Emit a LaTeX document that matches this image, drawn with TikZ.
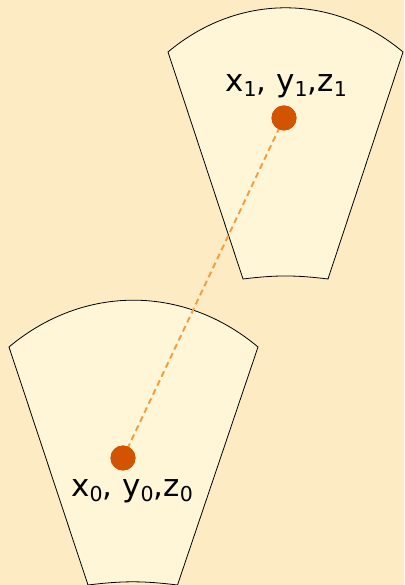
\documentclass[tikz,border=0pt]{standalone}
\usepackage{fontspec}
\setmainfont{DejaVu Sans}
\definecolor{bgc}{HTML}{FDEBC4}
\definecolor{fillc}{HTML}{FFF6D8}
\definecolor{dotc}{HTML}{D35400}
\definecolor{dashc}{HTML}{F0A040}
\newcommand{\sbs}[1]{\raisebox{-5pt}{\fontsize{20.5}{20.5}\selectfont #1}}
\tikzset{
  sector/.style={draw=black, line width=0.8pt, fill=fillc, line join=miter},
  dot/.style={circle, fill=dotc, inner sep=0pt, minimum size=25pt},
  lbl/.style={anchor=base, inner sep=0pt, font=\fontsize{31}{36}\selectfont},
  link/.style={draw=dashc, line width=2pt, dash pattern=on 6pt off 4pt}
}
\begin{document}
\begin{tikzpicture}[x=1pt,y=1pt]
\fill[bgc] (0,0) rectangle (404,585);
\useasboundingbox (0,0) rectangle (404,585);
\begin{scope}
\clip (0,0) rectangle (404,585);
% upper sector
\path[sector] (168,533) to[bend left=40] (403,533) -- (328,306) to[bend right=7] (243,306) -- cycle;
% lower sector
\path[sector] (9,238) to[bend left=40] (258,238) -- (177.5,0) to[bend right=7] (88,0) -- cycle;
\end{scope}
\node[dot] (p1) at (284,467) {};
\node[dot] (p0) at (123,127) {};
\path[link] (p0.center) -- (p1.center);
\node[dot] at (284,467) {};
\node[dot] at (123,127) {};
\node[lbl] (l1) at (286,493) {x\sbs{1}, y\sbs{1},z\sbs{1}};
\node[lbl] (l0) at (132,88) {x\sbs{0}, y\sbs{0},z\sbs{0}};
\end{tikzpicture}
\end{document}
